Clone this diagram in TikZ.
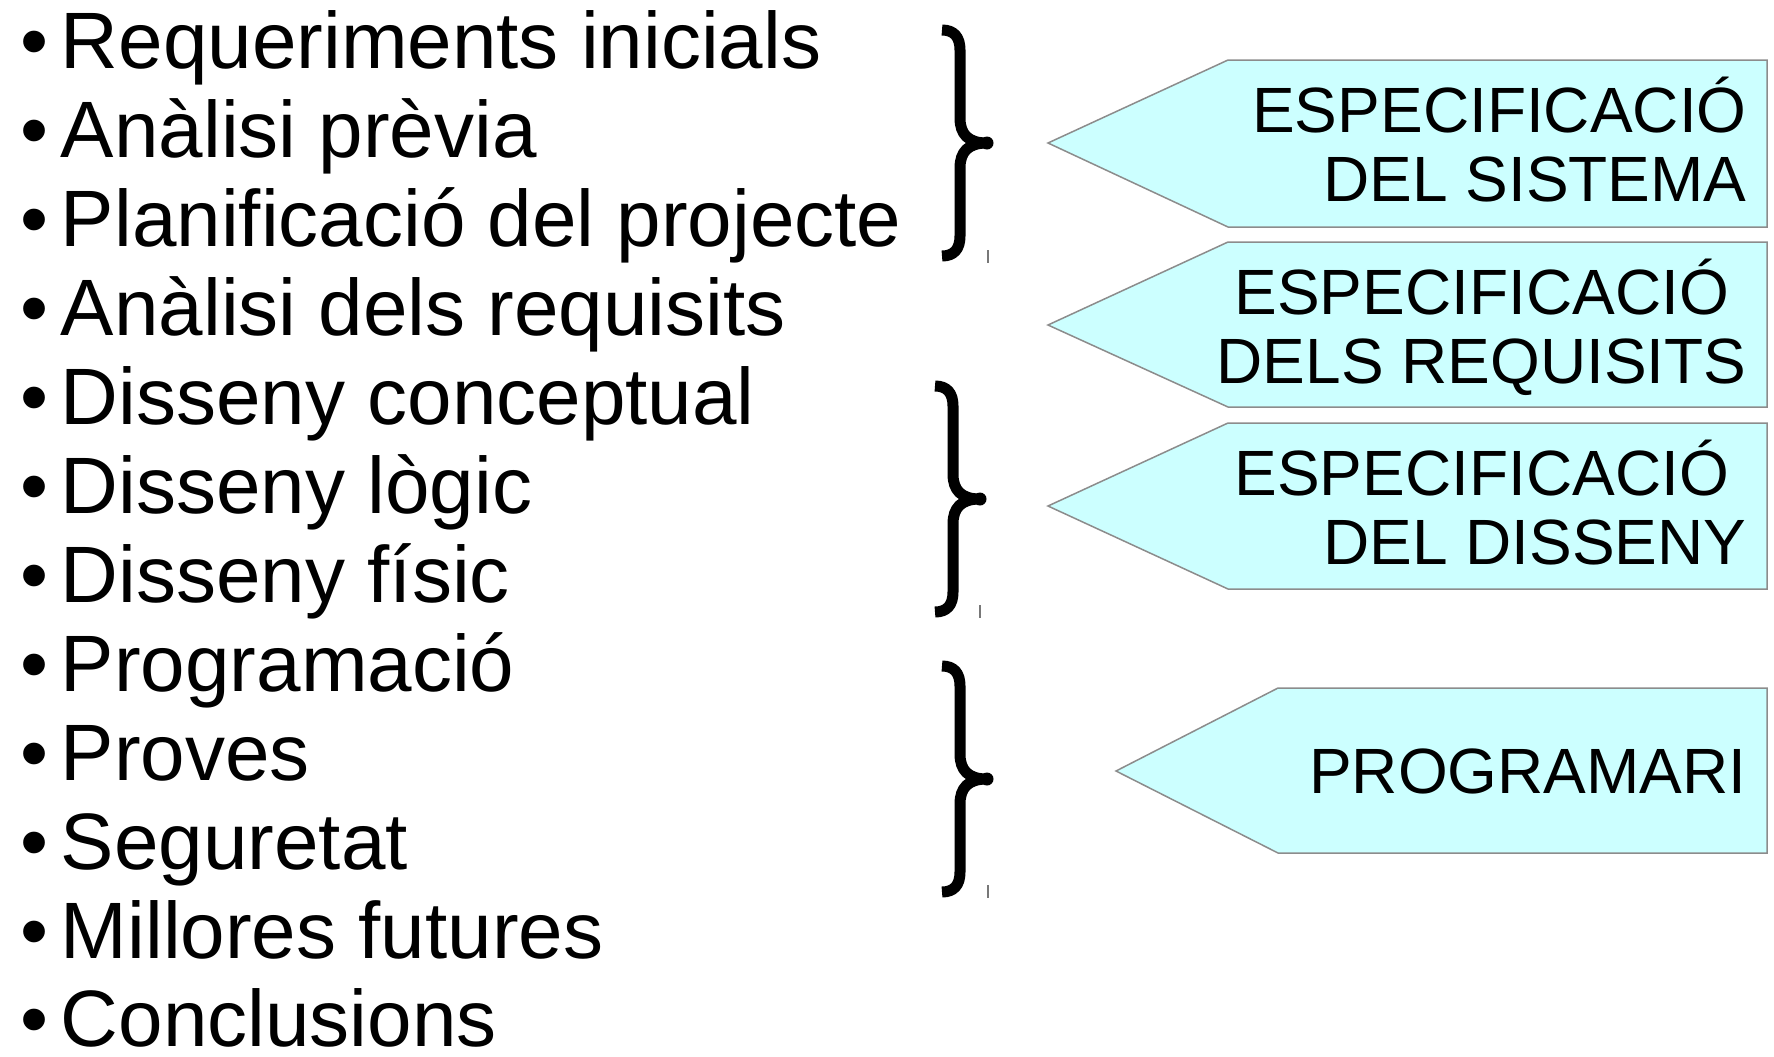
\documentclass[tikz,border=0pt]{standalone}
\usepackage{fontspec}
\setmainfont{Liberation Sans}
\definecolor{penfill}{RGB}{204,255,255}
\definecolor{penline}{RGB}{140,140,140}
\definecolor{tickgray}{RGB}{120,120,120}
\tikzset{
  item/.style={anchor=base west, inner sep=0pt, font=\fontsize{40pt}{44.5pt}\selectfont},
  spec/.style={anchor=base east, inner sep=0pt, font=\fontsize{32pt}{35pt}\selectfont},
  pent/.style={fill=penfill, draw=penline, line width=0.75pt, line join=miter},
  brace/.style={draw=black, line width=5.5pt, line cap=butt, line join=round},
  tick/.style={draw=tickgray, line width=0.6pt}
}
\begin{document}
\begin{tikzpicture}[x=0.5pt,y=-0.5pt]
\useasboundingbox (0,0) rectangle (1774,1056);
% left list
\node[item] (l1)  at (20,68)   {•\kern6.3pt Requeriments inicials};
\node[item] (l2)  at (20,157)  {•\kern6.3pt Anàlisi prèvia};
\node[item] (l3)  at (20,246)  {•\kern6.3pt Planificació del projecte};
\node[item] (l4)  at (20,335)  {•\kern6.3pt Anàlisi dels requisits};
\node[item] (l5)  at (20,424)  {•\kern6.3pt Disseny conceptual};
\node[item] (l6)  at (20,513)  {•\kern6.3pt Disseny lògic};
\node[item] (l7)  at (20,602)  {•\kern6.3pt Disseny físic};
\node[item] (l8)  at (20,691)  {•\kern6.3pt Programació};
\node[item] (l9)  at (20,780)  {•\kern6.3pt Proves};
\node[item] (l10) at (20,869)  {•\kern6.3pt Seguretat};
\node[item] (l11) at (20,958)  {•\kern6.3pt Millores futures};
\node[item] (l12) at (20,1046) {•\kern6.3pt Conclusions};
% braces
\draw[brace] (942,30) .. controls (954,30) and (960,37) .. (960,50) -- (960,118)
  .. controls (960,134) and (968,143) .. (987,143)
  .. controls (968,143) and (960,152) .. (960,168) -- (960,236)
  .. controls (960,249) and (954,256) .. (942,256);
\fill (987,143) circle[radius=6.5];
\draw[brace] (935,386) .. controls (947,386) and (953,393) .. (953,406) -- (953,474)
  .. controls (953,490) and (961,499) .. (980,499)
  .. controls (961,499) and (953,508) .. (953,524) -- (953,592)
  .. controls (953,605) and (947,612) .. (935,612);
\fill (980,499) circle[radius=6.5];
\draw[brace] (942,666) .. controls (954,666) and (960,673) .. (960,686) -- (960,754)
  .. controls (960,770) and (968,779) .. (987,779)
  .. controls (968,779) and (960,788) .. (960,804) -- (960,872)
  .. controls (960,885) and (954,892) .. (942,892);
\fill (987,779) circle[radius=6.5];
% small ticks
\draw[tick] (988,250) -- (988,263);
\draw[tick] (980,605) -- (980,618);
\draw[tick] (988,885) -- (988,898);
% pentagons
\draw[pent] (1048,143) -- (1228,60) -- (1767,60) -- (1767,227) -- (1228,227) -- cycle;
\draw[pent] (1048,325) -- (1228,242) -- (1767,242) -- (1767,407) -- (1228,407) -- cycle;
\draw[pent] (1048,506) -- (1228,423) -- (1767,423) -- (1767,589) -- (1228,589) -- cycle;
\draw[pent] (1116,771) -- (1278,688) -- (1767,688) -- (1767,853) -- (1278,853) -- cycle;
% pentagon texts
\node[spec] (s1a) at (1747,132) {ESPECIFICACIÓ};
\node[spec] (s1b) at (1747,201) {DEL SISTEMA};
\node[spec] (s2a) at (1747,314) {ESPECIFICACIÓ\kern.278em};
\node[spec] (s2b) at (1747,383) {DELS REQUISITS};
\node[spec] (s3a) at (1747,495) {ESPECIFICACIÓ\kern.278em};
\node[spec] (s3b) at (1747,564) {DEL DISSENY};
\node[spec] (s4)  at (1747,793) {PROGRAMARI};
\end{tikzpicture}
\end{document}
